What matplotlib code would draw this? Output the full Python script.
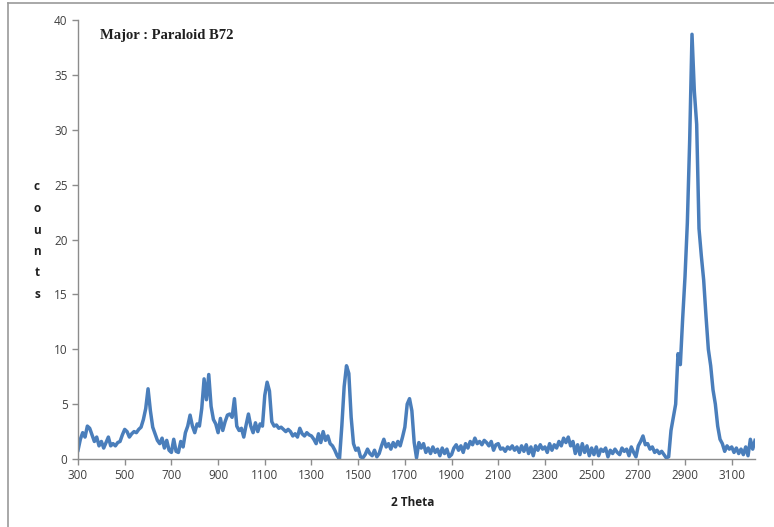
import numpy as np
import matplotlib.pyplot as plt
from matplotlib.lines import Line2D

# Spectrum sampled every 10 units from 300 to 3200
shift = np.arange(300, 3201, 10)
counts = [
    0.8, 1.8, 2.4, 2.0, 3.0, 2.8, 2.2, 1.6, 2.0, 1.2,      # 300
    1.6, 1.0, 1.5, 2.0, 1.2, 1.4, 1.2, 1.5, 1.6, 2.2,      # 400
    2.7, 2.5, 2.0, 2.3, 2.5, 2.4, 2.7, 2.9, 3.6, 4.6,      # 500
    6.4, 4.4, 2.9, 2.3, 1.7, 1.4, 1.9, 1.0, 1.7, 0.8,      # 600
    0.6, 1.8, 0.7, 0.6, 1.6, 1.1, 2.4, 3.0, 4.0, 3.0,      # 700
    2.4, 3.2, 3.0, 4.6, 7.3, 5.4, 7.7, 4.8, 3.6, 3.2,      # 800
    2.4, 3.7, 2.6, 3.4, 4.0, 4.1, 3.8, 5.5, 3.0, 2.6,      # 900
    2.8, 2.0, 3.1, 4.1, 3.0, 2.4, 3.3, 2.5, 3.2, 3.0,      # 1000
    5.8, 7.0, 6.2, 3.4, 3.0, 3.1, 2.8, 2.9, 2.7, 2.5,      # 1100
    2.7, 2.5, 2.1, 2.3, 2.0, 2.8, 2.3, 2.1, 2.4, 2.2,      # 1200
    2.1, 1.8, 1.4, 2.3, 1.5, 2.5, 1.7, 2.1, 1.4, 1.2,      # 1300
    0.8, 0.3, 0.0, 3.0, 6.6, 8.5, 7.8, 3.8, 1.4, 0.8,      # 1400
    1.0, 0.2, 0.1, 0.4, 0.9, 0.5, 0.3, 0.8, 0.2, 0.5,      # 1500
    1.2, 1.8, 1.1, 1.4, 0.9, 1.5, 1.1, 1.6, 1.2, 2.0,      # 1600
    2.9, 5.0, 5.5, 4.4, 1.5, 0.1, 1.5, 1.0, 1.4, 0.6,      # 1700
    1.0, 0.5, 1.1, 0.6, 0.9, 0.3, 1.0, 0.5, 0.9, 0.2,      # 1800
    0.4, 1.0, 1.3, 0.8, 1.2, 0.6, 1.4, 1.0, 1.6, 1.3,      # 1900
    1.9, 1.4, 1.6, 1.3, 1.7, 1.5, 1.2, 1.6, 0.8, 1.3,      # 2000
    1.4, 0.9, 1.0, 0.7, 1.1, 0.9, 1.2, 0.8, 1.1, 0.6,      # 2100
    1.2, 0.7, 1.3, 0.5, 1.1, 0.3, 1.2, 0.8, 1.3, 0.9,      # 2200
    1.1, 0.6, 1.4, 0.8, 1.3, 1.0, 1.6, 1.2, 1.9, 1.5,      # 2300
    2.0, 1.2, 1.6, 0.5, 1.3, 0.4, 1.4, 0.6, 1.2, 0.3,      # 2400
    1.0, 0.4, 1.1, 0.3, 0.9, 0.7, 1.0, 0.2, 0.8, 0.5,      # 2500
    0.9, 0.6, 0.4, 1.0, 0.7, 0.9, 0.3, 1.1, 0.6, 0.2,      # 2600
    1.2, 1.6, 2.1, 1.3, 1.4, 0.9, 1.1, 0.6, 0.8, 0.5,      # 2700
    0.7, 0.4, 0.1, 0.2, 2.6, 3.8, 5.0, 9.6, 8.6, 12.8,     # 2800
    16.6, 21.5, 29.0, 38.7, 33.5, 30.5, 21.0, 18.5, 16.3, 13.0,  # 2900
    10.0, 8.5, 6.3, 5.0, 3.0, 1.8, 1.4, 0.7, 1.2, 0.9,     # 3000
    1.1, 0.6, 1.0, 0.5, 0.9, 0.4, 1.1, 0.3, 1.8, 0.9,      # 3100
    1.7,
]
x_ticks = list(range(300, 3101, 200))
y_ticks = list(range(0, 41, 5))

fig = plt.figure(figsize=(7.74, 5.27), dpi=100)
ax = fig.add_axes([0.1008, 0.129, 0.8747, 0.833])

ax.plot(shift, counts, color="#4a7ebb", lw=2.5, solid_joinstyle="round")

ax.set_xlim(300, 3200)
ax.set_ylim(0, 40)
ax.set_xticks(x_ticks)
ax.set_yticks(y_ticks)

for side in ["top", "right"]:
    ax.spines[side].set_visible(False)
for side in ["left", "bottom"]:
    ax.spines[side].set_color("#8c8c8c")
    ax.spines[side].set_linewidth(1.0)

ax.tick_params(direction="out", length=4, width=1.0, color="#8c8c8c",
               labelsize=8.5, labelcolor="#404040")
for lab in ax.get_xticklabels() + ax.get_yticklabels():
    lab.set_family("Open Sans")

ax.text(0.033, 0.965, "Major : Paraloid B72", transform=ax.transAxes,
        family="Liberation Serif", fontweight="bold", fontsize=10.5,
        color="#202020", va="center", ha="left")

# stacked letters for the y label
for i, ch in enumerate("counts"):
    fig.text(37 / 774, 1 - (187 + i * 21.5) / 527, ch, family="Open Sans",
             fontweight="bold", fontsize=8.5, color="#202020",
             ha="center", va="center")

fig.text(413 / 774, 1 - 503 / 527, "2 Theta", family="Open Sans",
         fontweight="bold", fontsize=8.5, color="#202020",
         ha="center", va="center")

# light frame along the top and left edges
fig.add_artist(Line2D([8 / 774, 8 / 774], [0, 1 - 3 / 527],
                      transform=fig.transFigure, color="#9a9a9a", lw=1.2))
fig.add_artist(Line2D([8 / 774, 1], [1 - 3 / 527, 1 - 3 / 527],
                      transform=fig.transFigure, color="#9a9a9a", lw=1.2))

fig.savefig("out.png", dpi=100)
